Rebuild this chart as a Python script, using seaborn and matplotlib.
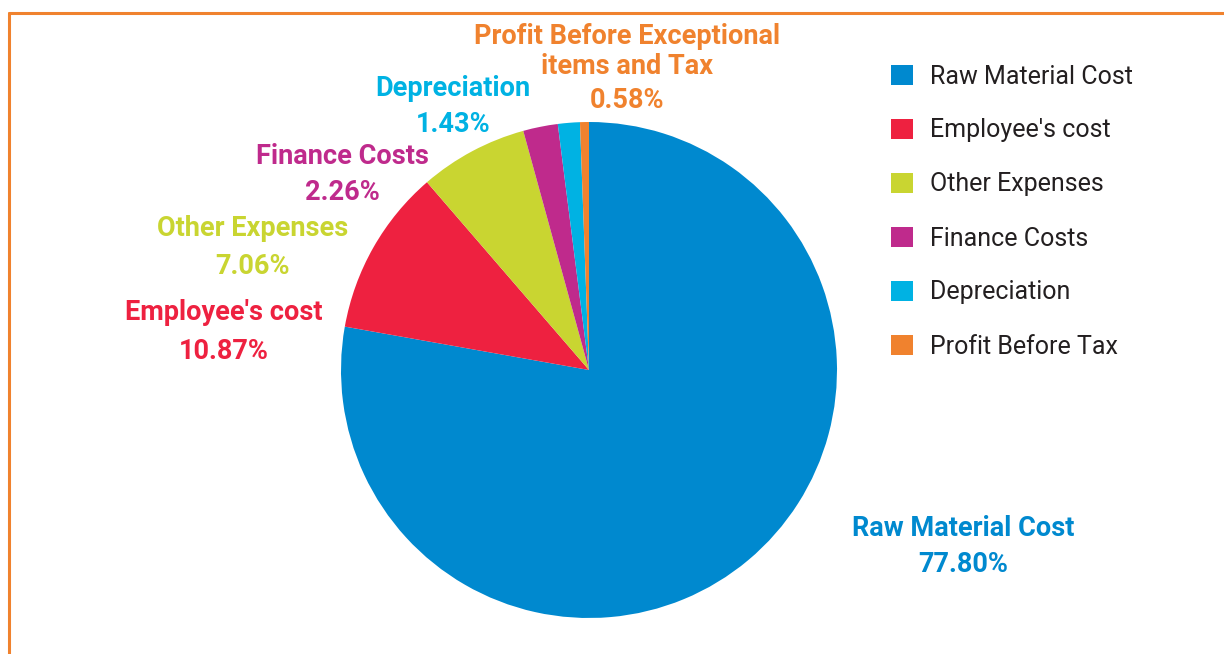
import matplotlib.pyplot as plt
import seaborn as sns
from matplotlib.lines import Line2D

# data
categories = ["Raw Material Cost", "Employee's cost", "Other Expenses",
              "Finance Costs", "Depreciation", "Profit Before Tax"]
shares = [77.80, 10.87, 7.06, 2.26, 1.43, 0.58]
label_names = ["Raw Material Cost", "Employee's cost", "Other Expenses",
               "Finance Costs", "Depreciation", "Profit Before Exceptional\nitems and Tax"]

colors = ["#0089cf", "#ee2140", "#c9d531", "#bf2a8c", "#00b2e3", "#f0822e"]

# label line centres in pixels (x, then y of each line from top)
label_x = [963, 224, 253, 342, 453, 627]
label_lines_y = [[528, 565], [313, 352], [228, 267], [157, 193], [88, 125], [36, 67, 101]]

W, H = 1224, 654
sns.set_style("white")
plt.rcParams['font.family'] = ['Roboto', 'DejaVu Sans']

fig = plt.figure(figsize=(W / 100, H / 100), dpi=100)

# pie axes: centre (589, 370), radius 248 px
cx, cy, r = 589, 370, 248
ax = fig.add_axes([(cx - r) / W, (H - cy - r) / H, 2 * r / W, 2 * r / H])
wedges, _ = ax.pie(shares, colors=colors, startangle=90, counterclock=False,
                   radius=1, wedgeprops=dict(linewidth=0))
ax.set_xlim(-1, 1)
ax.set_ylim(-1, 1)
ax.set_aspect("equal")
ax.axis("off")

# wedge labels, one text per line
for name, val, col, px, ys in zip(label_names, shares, colors, label_x, label_lines_y):
    lines = name.split("\n") + [f"{val:.2f}%"]
    for line, py in zip(lines, ys):
        fig.text(px / W, 1 - py / H, line, color=col, fontsize=19.5,
                 fontweight="bold", ha="center", va="center")

# legend
fig.legend(wedges, categories, loc="upper left", bbox_to_anchor=(868 / W, 1 - 42 / H),
           frameon=False, fontsize=18, handlelength=0.9, handleheight=0.9,
           handletextpad=0.7, labelspacing=1.2, labelcolor="#231f20")

# orange frame on top and left
fig.add_artist(Line2D([9 / W, 1], [1 - 13 / H, 1 - 13 / H], color="#f0822e", lw=2.2,
                      transform=fig.transFigure))
fig.add_artist(Line2D([9 / W, 9 / W], [0, 1 - 13 / H], color="#f0822e", lw=2.2,
                      transform=fig.transFigure))

plt.savefig("out.png", dpi=100)
